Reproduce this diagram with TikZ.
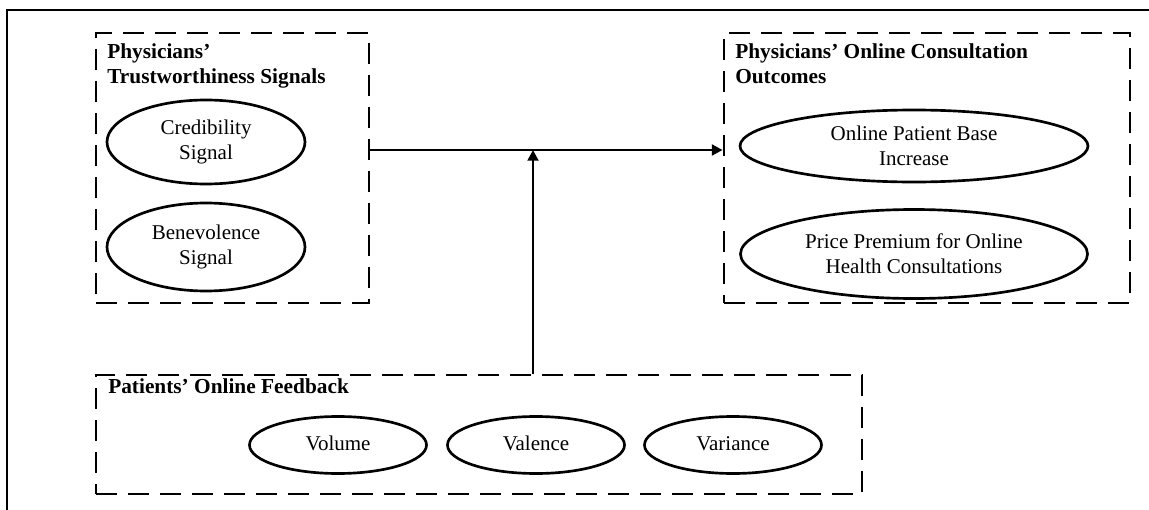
\documentclass[tikz,border=0pt]{standalone}
\usepackage{fontspec}
\setmainfont{Liberation Serif}
\usetikzlibrary{arrows.meta,shapes.geometric}

\tikzset{
  groupbox/.style={draw, line width=2.1pt, dash pattern=on 16pt off 8pt, inner sep=0pt},
  construct/.style={draw, ellipse, line width=2pt, inner sep=0pt, align=center,
                    font=\fontsize{15.75}{18.75}\selectfont},
  grouptitle/.style={anchor=north west, inner sep=0pt, align=left,
                     font=\fontsize{16}{18.75}\selectfont\bfseries},
  link/.style={line width=2.2pt, -{Triangle[length=8pt,width=8pt]}}
}

\begin{document}
\begin{tikzpicture}[x=0.75pt, y=-0.75pt]
    \useasboundingbox (0,0) rectangle (1149,510);

    % Frame
    \draw[line width=2pt] (7,510) -- (7,10) -- (1149,10);

    % Groups
    \node[groupbox, minimum width=204.75pt, minimum height=202.5pt] (trust) at (232.5,168) {};
    \node[groupbox, minimum width=304.5pt, minimum height=202.5pt] (outcome) at (927,168) {};
    \node[groupbox, minimum width=574.5pt, minimum height=89.25pt] (feedback) at (479,434.5) {};

    \node[grouptitle] (trusttitle) at (107,43.5) {Physicians'\\Trustworthiness Signals};
    \node[grouptitle] (outcometitle) at (735,43.5) {Physicians' Online Consultation\\Outcomes};
    \node[grouptitle] (feedbacktitle) at (108,378.5) {Patients' Online Feedback};

    % Signals
    \node[construct, minimum width=148.5pt, minimum height=63pt] (cred) at (206,142) {Credibility\\Signal};
    \node[construct, minimum width=148.5pt, minimum height=66pt] (bene) at (206,247) {Benevolence\\Signal};

    % Outcomes
    \node[construct, minimum width=261pt, minimum height=54pt] (base) at (914,146) {Online Patient Base\\Increase};
    \node[construct, minimum width=260.25pt, minimum height=66.75pt] (premium) at (914,254) {Price Premium for Online\\Health Consultations};

    % Feedback dimensions
    \foreach \x/\name/\txt in {338/volume/Volume, 536/valence/Valence, 733/variance/Variance}
        \node[construct, minimum width=132.75pt, minimum height=42.75pt] (\name) at (\x,445) {\strut\txt};

    % Main effect and moderation
    \coordinate (join) at (533,150);
    \draw[link] (trust.east |- join) -- (outcome.west |- join);
    \draw[link] (join |- feedback.north) -- (join);
\end{tikzpicture}
\end{document}
